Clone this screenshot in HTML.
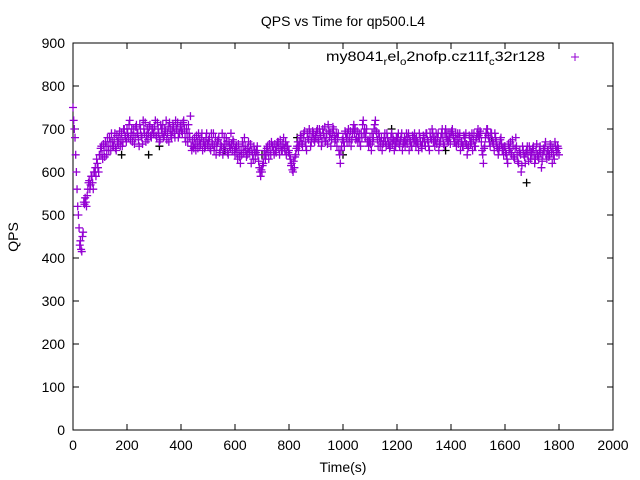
<!DOCTYPE html>
<html><head><meta charset="utf-8"><style>
body{margin:0;background:#fff}
svg{display:block;font-family:"Liberation Sans",sans-serif}
</style></head><body>
<svg id="chart" width="640" height="480" viewBox="0 0 640 480">
<text x="343" y="26" font-size="14" text-anchor="middle">QPS vs Time for qp500.L4</text>
<text x="0" y="0" font-size="14" text-anchor="middle" transform="translate(18,237) rotate(-90)">QPS</text>
<text x="343" y="472" font-size="14" text-anchor="middle">Time(s)</text>
<g id="axes"></g>
<g id="marks"></g>
<text x="326" y="61" font-size="14" textLength="219" lengthAdjust="spacingAndGlyphs">my8041<tspan font-size="10" dy="4">r</tspan><tspan dy="-4">el</tspan><tspan font-size="10" dy="4">o</tspan><tspan dy="-4">2nofp.cz11f</tspan><tspan font-size="10" dy="4">c</tspan><tspan dy="-4">32r128</tspan></text>
<g stroke="#9400d3" stroke-width="1"><line x1="571" y1="57" x2="579" y2="57"/><line x1="575" y1="53" x2="575" y2="61"/></g>
</svg>
<script>
const xTicks=[0,200,400,600,800,1000,1200,1400,1600,1800,2000];
const yTicks=[0,100,200,300,400,500,600,700,800,900];
const step=5;
const qps=[
750,700,640,560,500,430,420,450,530,540,520,560,580,570,590,560,600,590,620,600,
640,660,630,650,670,640,660,680,650,670,660,690,650,670,680,660,690,670,700,680,
700,680,720,690,670,700,680,710,690,660,700,680,720,690,670,700,690,710,680,700,
690,720,680,700,670,710,690,680,700,720,690,670,700,680,710,690,720,700,680,690,
710,690,720,680,700,670,690,730,650,660,680,650,670,690,660,680,650,670,660,690,
660,680,650,670,690,660,640,670,680,650,660,640,680,650,670,640,660,690,650,670,
640,660,630,650,620,640,660,680,650,640,670,650,620,640,660,630,650,640,610,590,
600,620,650,640,660,630,650,670,660,640,650,660,670,640,660,650,680,650,640,660,
650,630,620,600,610,640,660,650,670,680,660,690,670,650,680,700,660,680,690,670,
680,700,670,690,660,700,680,670,690,710,680,660,690,700,670,690,680,650,620,660,
680,660,690,670,700,680,660,690,710,700,680,670,690,660,680,720,700,690,670,660,
680,650,670,700,720,690,660,680,670,650,670,690,660,680,670,660,690,680,650,660,
670,690,660,680,650,670,660,690,680,650,670,660,680,690,660,670,650,680,660,670,
680,660,690,670,650,680,700,670,660,690,680,650,670,690,680,660,700,690,670,680,
690,700,680,670,660,690,680,650,670,660,680,690,640,660,680,670,650,690,660,680,
700,680,690,650,620,660,690,700,680,660,690,670,650,680,660,640,660,680,650,640,
660,640,620,650,670,640,660,630,680,640,620,650,600,660,640,620,650,640,660,630,
640,660,620,650,640,630,660,610,640,650,670,630,650,640,660,620,640,670,650,660,640];
const qps2=[
720,680,600,520,470,440,415,460,525,530,545,575,560,590,575,600,610,630,610,640,
655,640,665,635,660,680,650,670,690,660,675,655,685,665,695,675,660,700,685,670,
690,710,675,700,685,665,705,690,675,710,685,665,700,715,685,675,705,685,700,690,
705,685,715,690,675,700,710,685,695,675,705,715,685,695,705,680,700,715,690,705,
695,715,700,670,690,710,680,660,675,655,665,685,655,675,665,690,670,655,680,665,
675,655,690,665,650,680,660,675,645,665,690,655,665,680,645,670,655,665,675,650,
655,645,665,635,650,670,645,660,635,655,645,665,650,630,650,645,660,625,600,605,
615,640,630,655,645,665,640,660,650,665,645,670,655,675,650,665,655,670,660,645,
640,615,605,625,635,655,670,660,685,665,680,695,660,690,675,690,670,695,675,685,
695,675,700,685,670,690,705,680,665,695,690,675,705,685,675,660,690,640,650,675,
670,695,680,690,670,695,675,700,690,675,695,680,670,690,710,690,680,700,675,670,
665,690,680,710,695,675,690,660,680,665,680,670,690,665,655,680,665,675,670,680,
680,665,675,690,665,680,675,665,690,675,660,685,670,675,680,665,690,670,655,685,
670,690,675,660,690,675,690,680,675,665,690,665,680,700,665,690,680,675,690,665,
695,685,670,690,675,665,690,670,660,685,670,665,655,685,665,690,675,660,675,690,
685,695,670,640,655,680,700,685,670,690,675,665,690,670,655,650,675,665,655,660,
645,630,665,655,645,675,635,655,660,625,645,640,615,650,635,645,660,625,650,645,
655,640,630,665,635,650,645,625,655,660,640,650,635,665,645,655,630,660,645,655];
const blackT=[180,280,320,560,700,830,1000,1180,1380,1550,1680];
const blackV=[640,640,660,650,640,680,640,700,650,680,575];
const X0=73,X1=613,Y0=430,Y1=43;
const xs=v=>X0+(v-0)/2000*(X1-X0);
const ys=v=>Y0-(v-0)/900*(Y0-Y1);
const NS="http://www.w3.org/2000/svg";
const axes=document.getElementById('axes'),marks=document.getElementById('marks');
function mk(t,a,p){const e=document.createElementNS(NS,t);for(const k in a)e.setAttribute(k,a[k]);p.appendChild(e);return e;}
const frame=mk('rect',{x:X0,y:Y1,width:X1-X0,height:Y0-Y1,fill:'none',stroke:'#000','stroke-width':1},axes);


xTicks.forEach(v=>{const x=xs(v);
 mk('line',{x1:x,y1:Y0,x2:x,y2:Y0-6,stroke:'#000'},axes);
 mk('line',{x1:x,y1:Y1,x2:x,y2:Y1+6,stroke:'#000'},axes);
 const t=mk('text',{x:x,y:Y0+20,'font-size':14,'text-anchor':'middle'},axes);t.textContent=v;
 
 
});
yTicks.forEach(v=>{const y=ys(v);
 mk('line',{x1:X0,y1:y,x2:X0+6,y2:y,stroke:'#000'},axes);
 mk('line',{x1:X1,y1:y,x2:X1-6,y2:y,stroke:'#000'},axes);
 const t=mk('text',{x:X0-8,y:y+5,'font-size':14,'text-anchor':'end'},axes);t.textContent=v;
 
 
});
function plus(x,y,c,name){const g=mk('path',{d:`M${x-4} ${y}h8M${x} ${y-4}v8`,stroke:c,'stroke-width':1.3,fill:'none'},marks);
 
 }
blackT.forEach((t,i)=>plus(xs(t),ys(blackV[i]),'#000','point-black'));
qps.forEach((v,i)=>plus(xs(i*step),ys(v),'#9400d3','point-qps'));
qps2.forEach((v,i)=>plus(xs(i*step+step/2),ys(v),'#9400d3','point-qps'));
</script>
</body></html>
